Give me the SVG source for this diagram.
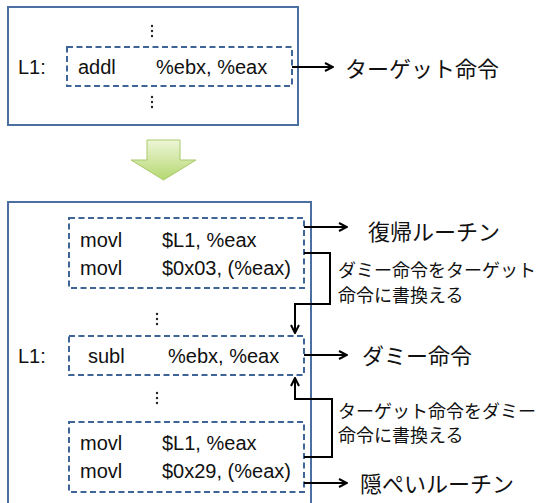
<svg xmlns="http://www.w3.org/2000/svg" width="544" height="503" viewBox="0 0 544 503">
<defs>
<style>
.outer{fill:#fff;stroke:#4a6fa0;stroke-width:2}
.dash{fill:none;stroke:#3f6497;stroke-width:2;stroke-dasharray:6,3.5}
.code{font-family:"Liberation Sans",Arial,sans-serif;font-size:20px;fill:#111}
.dots{font-family:"Liberation Sans",Arial,sans-serif;font-size:20px;fill:#111}
.lbl{font-family:"Noto Sans CJK JP","Noto Sans",sans-serif;font-size:22px;fill:#111}
.sub{font-family:"Noto Sans CJK JP","Noto Sans",sans-serif;font-size:18px;fill:#111}
.conn{fill:none;stroke:#000;stroke-width:2}
.dot{fill:#222}
</style>
<marker id="ah" viewBox="0 0 10 10" refX="9" refY="5" markerWidth="10" markerHeight="10" markerUnits="userSpaceOnUse" orient="auto">
<path d="M1,1 L9,5 L1,9" fill="none" stroke="#000" stroke-width="2"/>
</marker>
<linearGradient id="g" x1="0" y1="0" x2="0" y2="1">
<stop offset="0" stop-color="#eef6d8"/>
<stop offset="1" stop-color="#b4d870"/>
</linearGradient>
</defs>

<g id="top-box">
<rect class="outer" x="8" y="7" width="290" height="118"/>
<g class="dot"><circle cx="152" cy="26" r="1.2"/><circle cx="152" cy="31" r="1.2"/><circle cx="152" cy="36" r="1.2"/>
<circle cx="152" cy="97" r="1.2"/><circle cx="152" cy="102" r="1.2"/><circle cx="152" cy="107" r="1.2"/></g>
<text class="code" x="18" y="74">L1:</text>
</g>
<g id="top-target">
<rect class="dash" x="67" y="47" width="225" height="39"/>
<text class="code" x="78" y="74">addl</text>
<text class="code" x="156" y="74">%ebx, %eax</text>
</g>
<g id="label-target"><text class="lbl" x="345" y="77">ターゲット命令</text></g>

<g id="transform-arrow">
<path d="M147,140 H180 V160 H196 L163.5,180 L131,160 H147 Z" fill="url(#g)" stroke="#a9c96a" stroke-width="1"/>
</g>

<g id="bottom-box">
<rect class="outer" x="8" y="202" width="303" height="310"/>
<g class="dot"><circle cx="157" cy="314" r="1.2"/><circle cx="157" cy="319" r="1.2"/><circle cx="157" cy="324" r="1.2"/>
<circle cx="157" cy="393" r="1.2"/><circle cx="157" cy="398" r="1.2"/><circle cx="157" cy="403" r="1.2"/></g>
<text class="code" x="18" y="363">L1:</text>
</g>
<g id="return-routine">
<rect class="dash" x="69" y="218" width="235" height="70"/>
<text class="code" x="80" y="247">movl</text>
<text class="code" x="162" y="247">$L1, %eax</text>
<text class="code" x="80" y="275">movl</text>
<text class="code" x="162" y="275">$0x03, (%eax)</text>
</g>
<g id="dummy">
<rect class="dash" x="69" y="336" width="235" height="39"/>
<text class="code" x="88" y="363">subl</text>
<text class="code" x="168" y="363">%ebx, %eax</text>
</g>
<g id="hide-routine">
<rect class="dash" x="69" y="422" width="235" height="70"/>
<text class="code" x="80" y="450">movl</text>
<text class="code" x="162" y="450">$L1, %eax</text>
<text class="code" x="80" y="478">movl</text>
<text class="code" x="162" y="478">$0x29, (%eax)</text>
</g>

<g id="labels">
<text class="lbl" x="368" y="240">復帰ルーチン</text>
<text class="sub" x="338" y="277">ダミー命令をターゲット</text>
<text class="sub" x="338" y="302">命令に書換える</text>
<text class="lbl" x="362" y="364">ダミー命令</text>
<text class="sub" x="338" y="418">ターゲット命令をダミー</text>
<text class="sub" x="338" y="442">命令に書換える</text>
<text class="lbl" x="360" y="492">隠ぺいルーチン</text>
</g>

<g id="connectors">
<line class="conn" x1="292" y1="67" x2="333" y2="67" marker-end="url(#ah)"/>
<line class="conn" x1="304" y1="227" x2="347" y2="227" marker-end="url(#ah)"/>
<polyline class="conn" points="304,253 330,253 330,304 295,304 295,333" marker-end="url(#ah)"/>
<line class="conn" x1="304" y1="355" x2="347" y2="355" marker-end="url(#ah)"/>
<polyline class="conn" points="304,457 332,457 332,399 295,399 295,378" marker-end="url(#ah)"/>
<line class="conn" x1="304" y1="483" x2="347" y2="483" marker-end="url(#ah)"/>
</g>
</svg>
